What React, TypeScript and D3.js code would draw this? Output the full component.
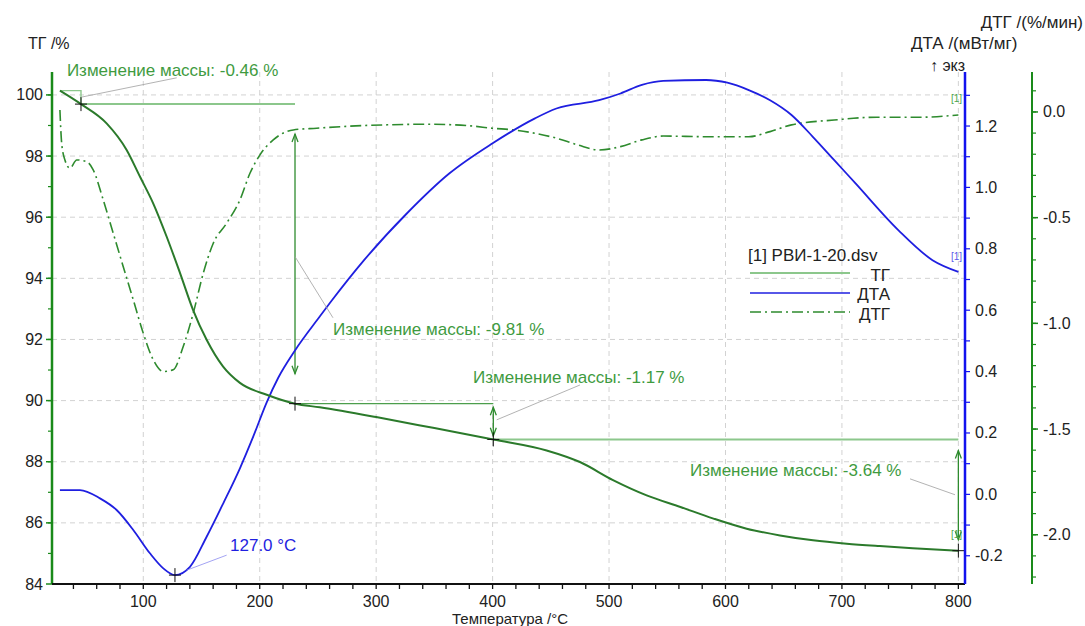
import * as d3 from 'd3';

// ТГ, %
const tgTemp = [28.4, 46.5, 68.5, 85.7, 97.1, 108.3, 120.1, 131.5, 142.7, 154.4, 168.4, 183, 206, 230.3, 251.6, 300, 350, 400.6, 446.4, 475, 503.4, 532.3, 561.3, 589.7, 618.2, 646.8, 675.2, 704.1, 732.4, 760.8, 800];
const tgMass = [100.14, 99.7, 99.07, 98.2, 97.33, 96.47, 95.36, 94.18, 92.97, 91.99, 91.12, 90.58, 90.19, 89.9, 89.78, 89.46, 89.1, 88.73, 88.37, 87.99, 87.4, 86.9, 86.52, 86.14, 85.81, 85.59, 85.43, 85.32, 85.24, 85.17, 85.09];

// ДТА, мВт/мг
const dtaTemp = [28.4, 45.6, 62.8, 77.1, 91.4, 105.7, 117.2, 127.2, 140.1, 154.4, 168.7, 183, 194.4, 206, 215.9, 230.3, 251.7, 262.2, 289.6, 326.3, 363, 399.7, 436.4, 454.8, 491.5, 509.8, 528.2, 546.5, 583.3, 601.6, 620, 638.3, 656.7, 675, 693.4, 711.7, 748.4, 777.8, 800];
const dtaSignal = [0.014, 0.014, -0.013, -0.051, -0.116, -0.192, -0.241, -0.263, -0.236, -0.138, -0.029, 0.085, 0.188, 0.3, 0.38, 0.469, 0.58, 0.633, 0.763, 0.915, 1.046, 1.143, 1.225, 1.257, 1.284, 1.306, 1.334, 1.347, 1.35, 1.341, 1.317, 1.284, 1.236, 1.165, 1.089, 1.013, 0.861, 0.763, 0.725];

// ДТГ, %/мин
const dtgTemp = [28.4, 29.9, 32.7, 37, 42.8, 51.4, 57, 65.6, 74.2, 82.8, 91.4, 100, 108.6, 117.2, 125.7, 134.3, 142.9, 151.5, 160.1, 171.6, 183, 191.6, 200.2, 211.6, 228.8, 248.9, 271.2, 308, 344.7, 381.3, 399.7, 418.1, 436.4, 454.8, 473.2, 491.5, 509.8, 528.2, 546.5, 583.3, 620, 638.3, 656.7, 693.4, 730, 766.8, 800];
const dtgRate = [0.009, -0.148, -0.227, -0.266, -0.227, -0.235, -0.274, -0.416, -0.574, -0.732, -0.889, -1.047, -1.173, -1.228, -1.22, -1.11, -0.952, -0.763, -0.621, -0.526, -0.416, -0.29, -0.203, -0.132, -0.085, -0.077, -0.069, -0.061, -0.058, -0.066, -0.077, -0.085, -0.101, -0.124, -0.156, -0.18, -0.164, -0.132, -0.114, -0.117, -0.117, -0.093, -0.061, -0.038, -0.025, -0.025, -0.014];

const xTicks = [100, 200, 300, 400, 500, 600, 700, 800];
const tgTicks = [84, 86, 88, 90, 92, 94, 96, 98, 100];
const dtaTicks = [-0.2, 0, 0.2, 0.4, 0.6, 0.8, 1.0, 1.2];
const dtgTicks = [0, -0.5, -1.0, -1.5, -2.0];

// mass loss steps
const stepTemps = [46.5, 230.3, 400.6, 800];
const stepLevels = [99.7, 89.9, 88.73, 85.09];
const stepLabels = ['-0.46', '-9.81', '-1.17', '-3.64'];
const startTemp = 28.4;
const startLevel = 100.14;
const dtaPeakTemp = 127.2;
const dtaPeakValue = -0.263;

const W = 1085;
const H = 626;
const FONT = 'Liberation Sans, Arial, sans-serif';
const GREEN_TXT = '#3f9b3f';
const LIGHT_GREEN = '#8cc78c';
const BLUE = '#1f1fe0';

export default function App() {
  const x = d3.scaleLinear().domain([21.6, 805.7]).range([52, 965]);
  const yTg = d3.scaleLinear().domain([84, 100.75]).range([584, 72]);
  const yDta = d3.scaleLinear().domain([-0.292, 1.376]).range([584, 72]);
  const yDtg = d3.scaleLinear().domain([-2.233, 0.189]).range([584, 72]);

  const tgLine = d3.line<number>().x((_, i) => x(tgTemp[i])).y((d) => yTg(d)).curve(d3.curveMonotoneX);
  const dtaLine = d3.line<number>().x((_, i) => x(dtaTemp[i])).y((d) => yDta(d)).curve(d3.curveMonotoneX);
  const dtgLine = d3.line<number>().x((_, i) => x(dtgTemp[i])).y((d) => yDtg(d)).curve(d3.curveMonotoneX);

  const minorX = d3.range(40, 801, 20);
  const minorTg = d3.range(85, 101, 1);
  const minorDta = d3.range(-2, 14).map((v) => v / 10);
  const minorDtg = d3.range(-22, 2).map((v) => v / 10);

  const cross = (cx: number, cy: number, key: string) => (
    <g key={key} stroke="#111" strokeWidth={1}>
      <line x1={cx - 6} x2={cx + 6} y1={cy} y2={cy} />
      <line x1={cx} x2={cx} y1={cy - 7} y2={cy + 7} />
    </g>
  );

  const arrow = (cx: number, y1: number, y2: number, key: string) => {
    const a = y1 + (y2 - y1) * 0.1;
    const b = y2 - (y2 - y1) * 0.1;
    return (
      <g key={key} stroke="#2e8b2e" strokeWidth={1.3} fill="none">
        <line x1={cx} x2={cx} y1={a} y2={b} />
        <path d={`M${cx - 3},${a + 8} L${cx},${a} L${cx + 3},${a + 8}`} />
        <path d={`M${cx - 3},${b - 8} L${cx},${b} L${cx + 3},${b - 8}`} />
      </g>
    );
  };

  // label anchors (temperature, ТГ level) and leader lines
  const labelPos = [
    { t: 34.4, v: 100.62, from: [128.7, 100.56], to: [47.1, 99.93] },
    { t: 262.9, v: 92.15, from: [262.9, 92.71], to: [230.3, 94.71] },
    { t: 383.2, v: 90.58, from: [475, 90.51], to: [403.5, 89.37] },
    { t: 569.5, v: 87.54, from: [758.5, 87.44], to: [797.1, 86.92] },
  ];

  return (
    <div style={{ position: 'absolute', left: 0, top: 0 }}>
      <svg width={W} height={H} viewBox={`0 0 ${W} ${H}`} style={{ display: 'block', background: '#fff' }} fontFamily={FONT}>
        <defs>
          <clipPath id="exoClip">
            <rect x={0} y={0} width={966} height={80} />
          </clipPath>
        </defs>

        {/* grid */}
        <g stroke="#d2d2d2" strokeWidth={1} strokeDasharray="5 4">
          {xTicks.map((t) => (
            <line key={`gx${t}`} x1={x(t)} x2={x(t)} y1={72} y2={584} />
          ))}
          {tgTicks.filter((t) => t > 84).map((t) => (
            <line key={`gy${t}`} x1={52} x2={965} y1={yTg(t)} y2={yTg(t)} />
          ))}
        </g>

        {/* mass loss construction lines */}
        <g fill="none" strokeWidth={1.4}>
          <path
            d={`M${x(startTemp)},${yTg(startLevel)} H${x(stepTemps[0])} V${yTg(stepLevels[0])}`}
            stroke={LIGHT_GREEN}
          />
          <line x1={x(stepTemps[0])} x2={x(stepTemps[1])} y1={yTg(stepLevels[0])} y2={yTg(stepLevels[0])} stroke={LIGHT_GREEN} strokeWidth={2} />
          <line x1={x(stepTemps[1])} x2={x(stepTemps[2])} y1={yTg(stepLevels[1])} y2={yTg(stepLevels[1])} stroke="#4c9e4c" />
          <line x1={x(stepTemps[2])} x2={x(stepTemps[3])} y1={yTg(stepLevels[2])} y2={yTg(stepLevels[2])} stroke={LIGHT_GREEN} strokeWidth={2} />
        </g>
        {[1, 2, 3].map((i) => arrow(x(stepTemps[i]), yTg(stepLevels[i - 1]), yTg(stepLevels[i]), `ar${i}`))}

        {/* curves */}
        <path d={dtgLine(dtgRate) ?? ''} fill="none" stroke="#2e8b2e" strokeWidth={1.6} strokeDasharray="11 4 2 4" />
        <path d={dtaLine(dtaSignal) ?? ''} fill="none" stroke={BLUE} strokeWidth={1.8} />
        <path d={tgLine(tgMass) ?? ''} fill="none" stroke="#2b7a2b" strokeWidth={2} />

        {/* markers */}
        {stepTemps.map((t, i) => cross(x(t), yTg(stepLevels[i]), `c${i}`))}
        {cross(x(dtaPeakTemp), yDta(dtaPeakValue), 'cpk')}

        {/* leaders and labels */}
        <g stroke="#a0a0a0" strokeWidth={0.8}>
          {labelPos.map((p, i) => (
            <line key={`ld${i}`} x1={x(p.from[0])} y1={yTg(p.from[1])} x2={x(p.to[0])} y2={yTg(p.to[1])} />
          ))}
          <line x1={x(171.6)} y1={yDta(-0.198)} x2={x(137.3)} y2={yDta(-0.247)} stroke="#8c8cf0" />
        </g>
        {labelPos.map((p, i) => (
          <text key={`lt${i}`} x={x(p.t)} y={yTg(p.v)} fontSize={17} fill={GREEN_TXT}>
            {`Изменение массы: ${stepLabels[i]} %`}
          </text>
        ))}
        <text x={x(174.5)} y={yDta(-0.185)} fontSize={17} fill={BLUE}>
          127.0 °C
        </text>

        {/* [1] tags */}
        <text x={962} y={102} fontSize={10} fill="#4ca64c" textAnchor="end">[1]</text>
        <text x={962} y={260} fontSize={10} fill="#5a5ae8" textAnchor="end">[1]</text>
        <text x={962} y={538} fontSize={10} fill="#4ca64c" textAnchor="end">[1]</text>

        {/* left ТГ axis */}
        <line x1={52} x2={52} y1={72} y2={584} stroke="#1a8a1a" strokeWidth={2.5} />
        {minorTg.map((t) => (
          <line key={`mt${t}`} x1={48} x2={52} y1={yTg(t)} y2={yTg(t)} stroke="#1a8a1a" strokeWidth={1.2} />
        ))}
        {tgTicks.map((t) => (
          <g key={`tt${t}`}>
            <line x1={46} x2={52} y1={yTg(t)} y2={yTg(t)} stroke="#1a8a1a" strokeWidth={1.5} />
            <text x={43} y={yTg(t) + 5.5} fontSize={16} textAnchor="end" fill="#222">
              {t}
            </text>
          </g>
        ))}

        {/* bottom axis */}
        <line x1={52} x2={965} y1={584} y2={584} stroke="#111" strokeWidth={2} />
        {minorX.map((t) => (
          <line key={`mx${t}`} x1={x(t)} x2={x(t)} y1={584} y2={589} stroke="#111" strokeWidth={1.3} />
        ))}
        {xTicks.map((t) => (
          <text key={`xt${t}`} x={x(t)} y={607} fontSize={16} textAnchor="middle" fill="#222">
            {t}
          </text>
        ))}
        <text x={510} y={624} fontSize={15} textAnchor="middle" fill="#222">
          Температура /°C
        </text>

        {/* ДТА axis */}
        <line x1={965} x2={965} y1={72} y2={584} stroke="#1212ee" strokeWidth={2.5} />
        {minorDta.map((t) => (
          <line key={`md${t}`} x1={965} x2={970} y1={yDta(t)} y2={yDta(t)} stroke="#1212ee" strokeWidth={1.2} />
        ))}
        {dtaTicks.map((t) => (
          <text key={`dt${t}`} x={975} y={yDta(t) + 5.5} fontSize={16} fill="#222">
            {t.toFixed(1)}
          </text>
        ))}

        {/* ДТГ axis */}
        <line x1={1032} x2={1032} y1={72} y2={584} stroke="#1a8a1a" strokeWidth={2} />
        {minorDtg.map((t) => (
          <line key={`mg${t}`} x1={1032} x2={1036} y1={yDtg(t)} y2={yDtg(t)} stroke="#1a8a1a" strokeWidth={1.2} />
        ))}
        {dtgTicks.map((t) => (
          <g key={`gt${t}`}>
            <line x1={1032} x2={1038} y1={yDtg(t)} y2={yDtg(t)} stroke="#1a8a1a" strokeWidth={1.5} />
            <text x={1043} y={yDtg(t) + 5.5} fontSize={16} fill="#222">
              {t.toFixed(1)}
            </text>
          </g>
        ))}

        {/* axis titles */}
        <text x={28} y={49} fontSize={16} fill="#222">ТГ /%</text>
        <text x={1083} y={28} fontSize={17} fill="#222" textAnchor="end">ДТГ /(%/мин)</text>
        <text x={911} y={49} fontSize={17} fill="#222">ДТА /(мВт/мг)</text>
        <text x={930} y={71} fontSize={16} fill="#222" clipPath="url(#exoClip)">↑ экз</text>

        {/* legend */}
        <g fontSize={17} fill="#222">
          <text x={748} y={261}>[1] РВИ-1-20.dsv</text>
          <line x1={750} x2={850} y1={273} y2={273} stroke={LIGHT_GREEN} strokeWidth={2} />
          <text x={890} y={281} textAnchor="end">ТГ</text>
          <line x1={750} x2={850} y1={293} y2={293} stroke={BLUE} strokeWidth={1.5} />
          <text x={890} y={300} textAnchor="end">ДТА</text>
          <line x1={750} x2={850} y1={312} y2={312} stroke="#2e8b2e" strokeWidth={1.4} strokeDasharray="11 4 2 4" />
          <text x={890} y={320} textAnchor="end">ДТГ</text>
        </g>
      </svg>
    </div>
  );
}
